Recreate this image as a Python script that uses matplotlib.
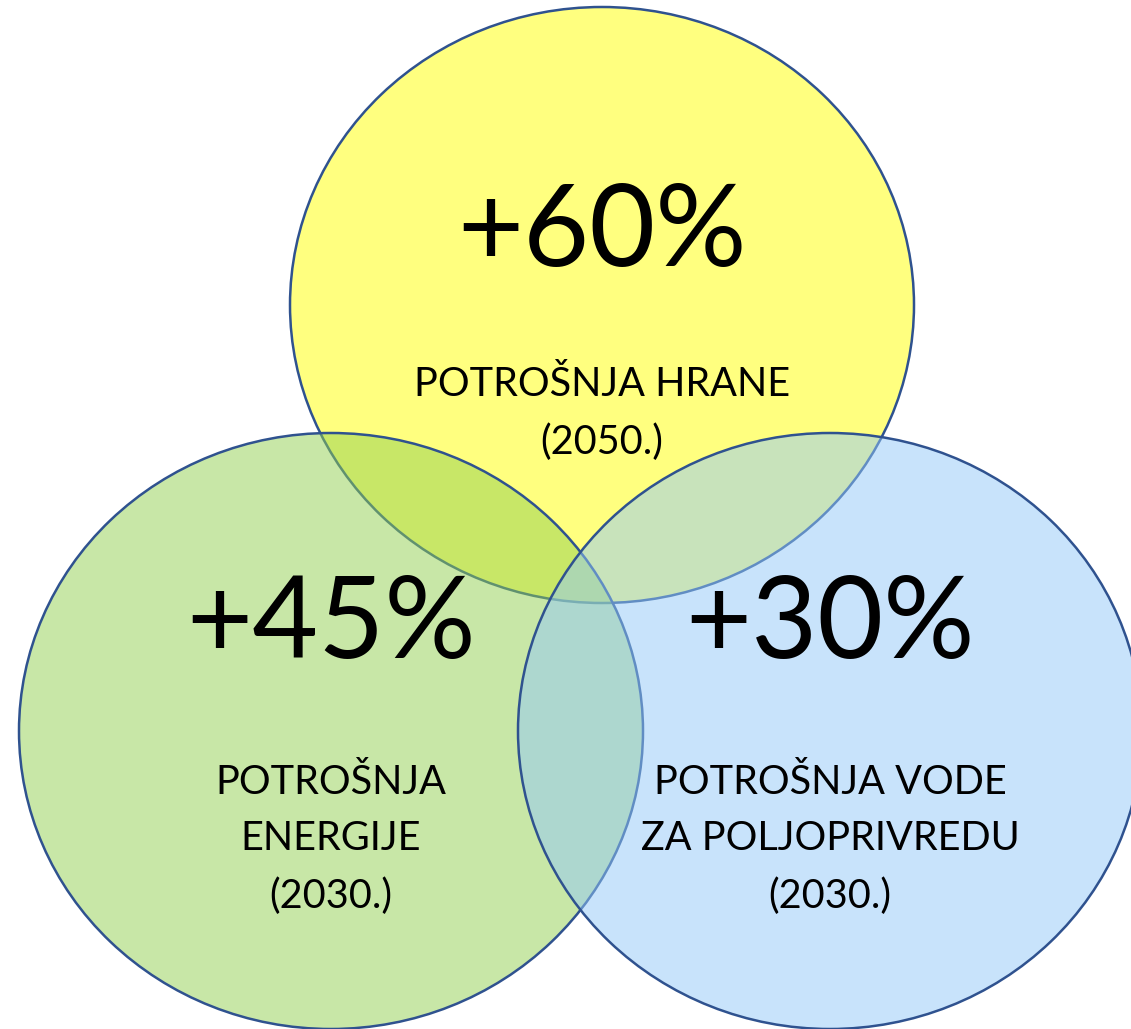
import matplotlib.pyplot as plt
from matplotlib.colors import to_rgba
from matplotlib.patches import Ellipse

# circles: big number, small text lines, fill colour
percent = ["+60%", "+45%", "+30%"]
captions = [
    ["POTROŠNJA HRANE", "(2050.)"],
    ["POTROŠNJA", "ENERGIJE", "(2030.)"],
    ["POTROŠNJA VODE", "ZA POLJOPRIVREDU", "(2030.)"],
]
fills = ["#FFFF00", "#92D050", "#93C9F8"]

# layout in pixel coordinates (x, y of centre)
centers = [(602, 305), (331, 731), (830, 731)]
width, height = 624, 596
big_y = [234, 626, 626]
cap_y0 = [385, 782, 782]
line_step = 57

plt.rcParams["font.family"] = ["Lato", "DejaVu Sans"]

fig = plt.figure(figsize=(11.31, 10.29), dpi=100)
ax = fig.add_axes([0, 0, 1, 1])
ax.set_xlim(0, 1131)
ax.set_ylim(1029, 0)
ax.axis("off")

# each circle: half transparent fill, opaque outline, drawn in order
for (cx, cy), fc in zip(centers, fills):
    ax.add_patch(Ellipse((cx, cy), width, height,
                         facecolor=to_rgba(fc, 0.5),
                         edgecolor="#2F528F", linewidth=1.8))

for i, (cx, cy) in enumerate(centers):
    ax.text(cx, big_y[i], percent[i], fontsize=82, ha="center", va="center",
            color="black")
    for j, line in enumerate(captions[i]):
        ax.text(cx, cap_y0[i] + j * line_step, line, fontsize=28.5,
                ha="center", va="center", color="black")

fig.savefig("out.png", dpi=100)
